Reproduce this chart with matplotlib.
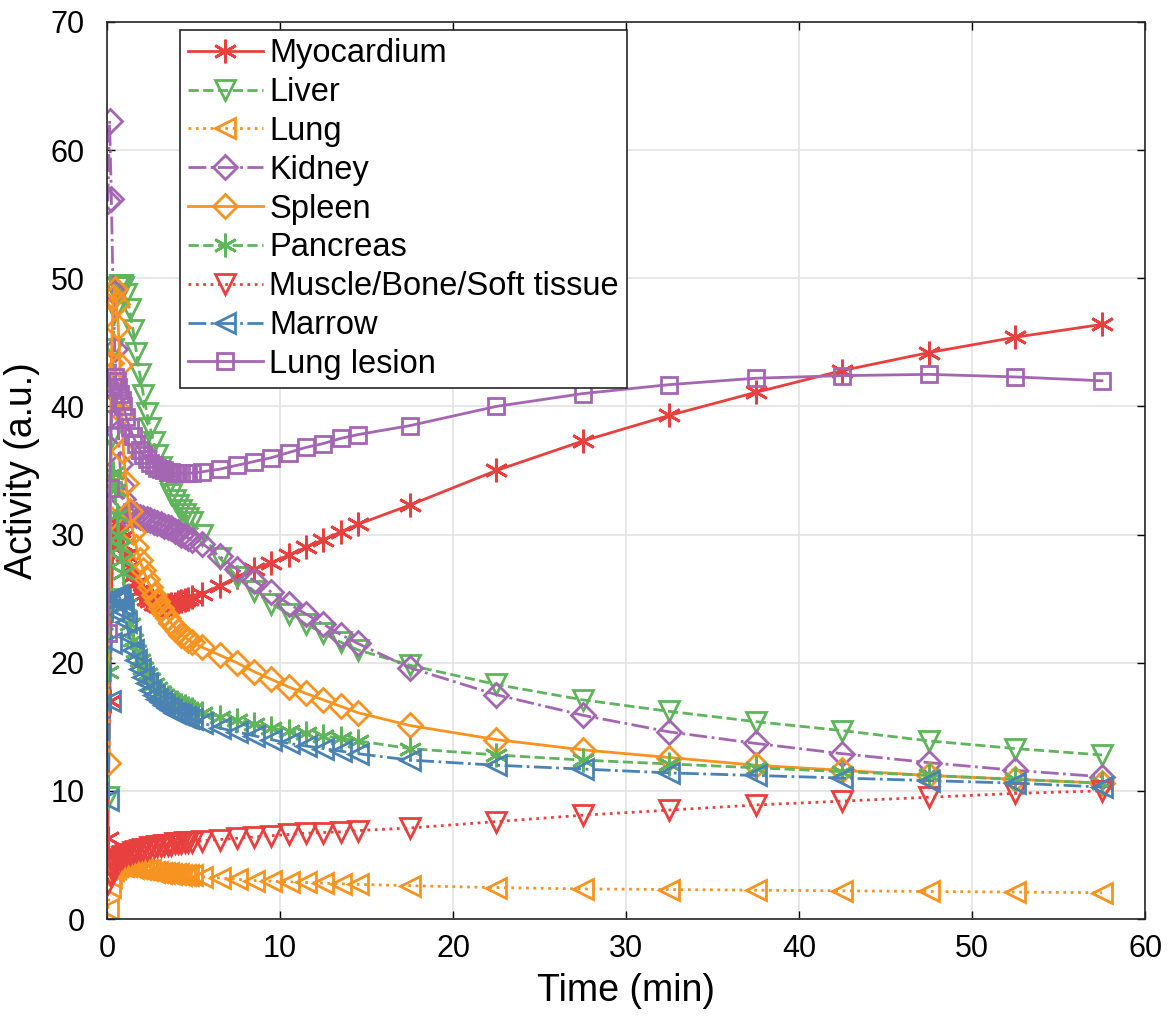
import numpy as np
import matplotlib
matplotlib.use("Agg")
import matplotlib.pyplot as plt

plt.rcParams['font.family'] = ['Liberation Sans', 'DejaVu Sans']

# frame mid-times (min)
time = [0.05, 0.15, 0.25, 0.35, 0.45, 0.55, 0.65, 0.75, 0.85, 0.95,
        1.1, 1.3, 1.5, 1.7, 1.9, 2.1, 2.3, 2.5, 2.7, 2.9,
        3.1, 3.3, 3.5, 3.7, 3.9, 4.1, 4.3, 4.5, 4.7, 4.9,
        5.5, 6.5, 7.5, 8.5, 9.5, 10.5, 11.5, 12.5, 13.5, 14.5,
        17.5, 22.5, 27.5, 32.5, 37.5, 42.5, 47.5, 52.5, 57.5]

myocardium = [6.3, 17.0, 25.0, 29.0, 30.5, 31.0, 30.8, 30.3, 29.8, 29.2,
              28.4, 27.5, 26.8, 26.2, 25.7, 25.3, 25.0, 24.8, 24.6, 24.5,
              24.5, 24.5, 24.5, 24.6, 24.6, 24.7, 24.8, 24.9, 25.0, 25.1,
              25.4, 26.0, 26.7, 27.3, 27.8, 28.4, 29.0, 29.6, 30.2, 30.8,
              32.3, 35.0, 37.3, 39.3, 41.1, 42.8, 44.2, 45.4, 46.4]
liver = [9.5, 25.0, 37.5, 44.5, 47.5, 48.8, 49.3, 49.5, 49.5, 49.3,
         48.8, 47.6, 46.0, 44.2, 42.5, 40.9, 39.5, 38.3, 37.2, 36.2,
         35.3, 34.5, 33.8, 33.2, 32.7, 32.3, 31.9, 31.6, 31.3, 31.0,
         30.0, 28.2, 26.7, 25.6, 24.6, 23.8, 23.0, 22.3, 21.6, 21.0,
         19.8, 18.3, 17.1, 16.2, 15.4, 14.7, 13.9, 13.3, 12.8]
lung = [0.8, 2.5, 3.3, 3.8, 4.0, 4.1, 4.2, 4.2, 4.2, 4.1,
        4.1, 4.1, 4.0, 4.0, 3.9, 3.9, 3.8, 3.8, 3.7, 3.7,
        3.6, 3.6, 3.6, 3.5, 3.5, 3.5, 3.4, 3.4, 3.4, 3.4,
        3.3, 3.2, 3.1, 3.0, 2.95, 2.9, 2.85, 2.8, 2.75, 2.7,
        2.6, 2.45, 2.35, 2.3, 2.25, 2.2, 2.15, 2.1, 2.05]
kidney = [56.0, 62.3, 56.2, 49.0, 44.5, 41.0, 38.0, 35.5, 33.8, 32.8,
          31.5, 31.6, 31.6, 31.5, 31.4, 31.3, 31.2, 31.1, 31.0, 30.9,
          30.8, 30.7, 30.6, 30.5, 30.3, 30.2, 30.0, 29.9, 29.7, 29.6,
          29.3, 28.3, 27.3, 26.4, 25.5, 24.6, 23.8, 23.0, 22.2, 21.5,
          19.6, 17.5, 15.9, 14.6, 13.7, 12.9, 12.2, 11.6, 11.1]
spleen = [12.2, 31.3, 43.4, 48.5, 49.2, 48.0, 46.2, 43.2, 39.5, 36.5,
          34.0, 31.8, 30.2, 29.0, 28.0, 27.2, 26.5, 25.9, 25.3, 24.8,
          24.3, 23.9, 23.5, 23.1, 22.8, 22.5, 22.2, 22.0, 21.8, 21.6,
          21.2, 20.6, 20.0, 19.3, 18.7, 18.1, 17.6, 17.1, 16.6, 16.1,
          15.1, 14.0, 13.2, 12.6, 12.0, 11.6, 11.2, 10.9, 10.6]
pancreas = [19.3, 29.6, 34.5, 34.8, 33.5, 31.5, 30.0, 29.0, 28.0, 27.0,
            24.5, 23.0, 21.8, 20.9, 20.2, 19.6, 19.1, 18.7, 18.3, 18.0,
            17.7, 17.5, 17.3, 17.1, 16.9, 16.8, 16.7, 16.6, 16.5, 16.4,
            16.1, 15.8, 15.5, 15.2, 14.9, 14.7, 14.5, 14.3, 14.1, 13.9,
            13.3, 12.8, 12.4, 12.1, 11.8, 11.5, 11.2, 10.9, 10.6]
muscle = [2.8, 3.5, 4.0, 4.2, 4.4, 4.5, 4.6, 4.7, 4.8, 4.9,
          5.0, 5.1, 5.2, 5.3, 5.4, 5.5, 5.5, 5.6, 5.6, 5.7,
          5.7, 5.8, 5.8, 5.8, 5.9, 5.9, 5.9, 6.0, 6.0, 6.0,
          6.1, 6.2, 6.3, 6.4, 6.5, 6.6, 6.7, 6.75, 6.8, 6.9,
          7.1, 7.6, 8.1, 8.5, 8.9, 9.2, 9.5, 9.8, 10.0]
marrow = [9.3, 17.0, 21.5, 24.0, 25.0, 25.3, 25.3, 25.0, 24.5, 24.0,
          23.2, 22.0, 21.0, 20.2, 19.5, 18.9, 18.4, 17.9, 17.5, 17.2,
          16.9, 16.7, 16.5, 16.3, 16.1, 16.0, 15.9, 15.8, 15.7, 15.6,
          15.3, 14.9, 14.6, 14.3, 14.0, 13.7, 13.5, 13.3, 13.1, 12.9,
          12.4, 12.0, 11.7, 11.4, 11.2, 11.0, 10.8, 10.6, 10.3]
lung_lesion = [22.3, 33.6, 39.0, 41.5, 42.3, 42.0, 41.5, 41.0, 40.5, 40.0,
               39.2, 38.4, 37.7, 37.1, 36.6, 36.2, 35.9, 35.6, 35.4, 35.2,
               35.1, 35.0, 34.9, 34.9, 34.8, 34.8, 34.8, 34.8, 34.8, 34.8,
               34.9, 35.1, 35.4, 35.7, 36.0, 36.4, 36.8, 37.1, 37.5, 37.8,
               38.5, 40.0, 41.0, 41.7, 42.2, 42.4, 42.5, 42.3, 42.0]

red = '#e8403e'
green = '#5fb45c'
orange = '#f79320'
purple = '#a466b3'
blue = '#4a82b4'
asterisk = (6, 2, 0)

# label, data, colour, linestyle, marker, markersize
series = [
    ('Myocardium', myocardium, red, '-', asterisk, 17),
    ('Liver', liver, green, '--', 'v', 15),
    ('Lung', lung, orange, ':', '<', 15),
    ('Kidney', kidney, purple, '-.', 'D', 12.5),
    ('Spleen', spleen, orange, '-', 'D', 12.5),
    ('Pancreas', pancreas, green, '--', asterisk, 17),
    ('Muscle/Bone/Soft tissue', muscle, red, ':', 'v', 15),
    ('Marrow', marrow, blue, '-.', '<', 15),
    ('Lung lesion', lung_lesion, purple, '-', 's', 12),
]

fig = plt.figure(figsize=(11.71, 10.21), dpi=100)
ax = fig.add_axes([0.0914, 0.0999, 0.8866, 0.8786])

for label, vals, col, ls, mk, ms in series:
    ax.plot(time, vals, color=col, linestyle=ls, linewidth=2, marker=mk,
            markersize=ms, markerfacecolor='none', markeredgecolor=col,
            markeredgewidth=2, label=label)

ax.set_xlim(0, 60)
ax.set_ylim(0, 70)
ax.set_xticks(np.arange(0, 61, 10))
ax.set_yticks(np.arange(0, 71, 10))
ax.grid(True, color='#e3e3e3', linewidth=1.2)
ax.set_axisbelow(True)
ax.tick_params(direction='in', top=True, right=True, labelsize=22, length=6, width=1)
ax.tick_params(axis='x', pad=11)
ax.tick_params(axis='y', pad=16)
for sp in ax.spines.values():
    sp.set_linewidth(1.2)
    sp.set_color('#262626')

ax.set_xlabel('Time (min)', fontsize=27, labelpad=6)
ax.set_ylabel('Activity (a.u.)', fontsize=27, labelpad=8)

leg = ax.legend(loc='upper left', bbox_to_anchor=(0.07, 0.991), fontsize=23.5,
                numpoints=1, handlelength=2.3, fancybox=False, framealpha=1,
                borderpad=0.25, labelspacing=0.24, handletextpad=0.2, borderaxespad=0)
leg.get_frame().set_edgecolor('#262626')
leg.get_frame().set_linewidth(1.2)

fig.savefig('out.png', dpi=100)
